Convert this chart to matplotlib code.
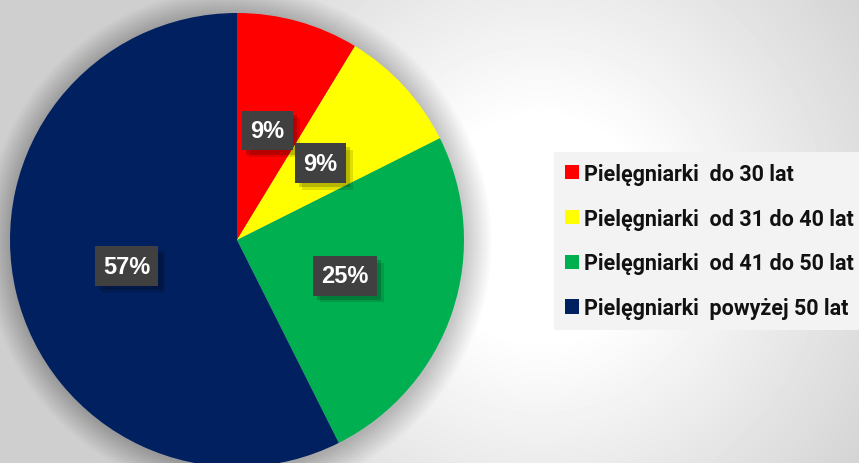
import numpy as np
import matplotlib
matplotlib.use('Agg')
from matplotlib import pyplot as plt
from matplotlib.patches import Circle
import matplotlib.patheffects as pe

# data
labels = ['Pielęgniarki  do 30 lat', 'Pielęgniarki  od 31 do 40 lat',
          'Pielęgniarki  od 41 do 50 lat', 'Pielęgniarki  powyżej 50 lat']
shares = [8.7, 8.9, 25.0, 57.4]
colors = ['#FF0000', '#FFFF00', '#00B050', '#002060']

W, H = 859, 464
fig = plt.figure(figsize=(W / 100, H / 100), dpi=100)
ax = fig.add_axes([0, 0, 1, 1])

# radial gray background, white near the legend side
yy, xx = np.mgrid[0:H, 0:W]
d = np.sqrt((xx - 540) ** 2 + (yy - 230) ** 2)
t = np.clip((d - 110) / 320, 0, 1)
bg = 1 - 0.19 * t
ax.imshow(bg, cmap='gray', vmin=0, vmax=1, extent=[0, W, 0, H], origin='upper', zorder=0)

cx, cy, R = 237, H - 241, 227

# soft shadow round the pie
for k in range(1, 28):
    ax.add_patch(Circle((cx + 1, cy - 2), R + k, color='black', alpha=0.006, lw=0, zorder=1))

wedges, texts, autotexts = ax.pie(
    shares, colors=colors, startangle=90, counterclock=False,
    center=(cx, cy), radius=R, autopct='%.0f%%', pctdistance=0.5,
    wedgeprops=dict(linewidth=0, zorder=2),
    textprops=dict(color='white', fontsize=17, fontweight='bold', family='Liberation Sans'))

for a in autotexts:
    a.set_zorder(5)
    a.set_bbox(dict(boxstyle='square,pad=0.35', facecolor='#404040', edgecolor='none'))
    a.get_bbox_patch().set_path_effects([
        pe.SimplePatchShadow(offset=(5, -5), shadow_rgbFace='black', alpha=0.12),
        pe.SimplePatchShadow(offset=(3, -3), shadow_rgbFace='black', alpha=0.18),
        pe.Normal()])

ax.set_xlim(0, W)
ax.set_ylim(0, H)
ax.set_aspect('equal')
ax.axis('off')

leg = ax.legend(wedges, labels, loc='center left', bbox_to_anchor=(554 / W, 1 - 242 / H),
                bbox_transform=fig.transFigure, frameon=True, fancybox=False,
                handlelength=0.65, handleheight=0.65, handletextpad=0.25,
                labelspacing=1.06, borderpad=0.5, borderaxespad=0,
                prop=dict(family='Roboto', weight='bold', size=15.5))
leg.get_frame().set_facecolor('#f3f3f3')
leg.get_frame().set_edgecolor('none')
leg.get_frame().set_alpha(1)
for txt in leg.get_texts():
    txt.set_color('#111111')

fig.savefig('out.png', dpi=100)
